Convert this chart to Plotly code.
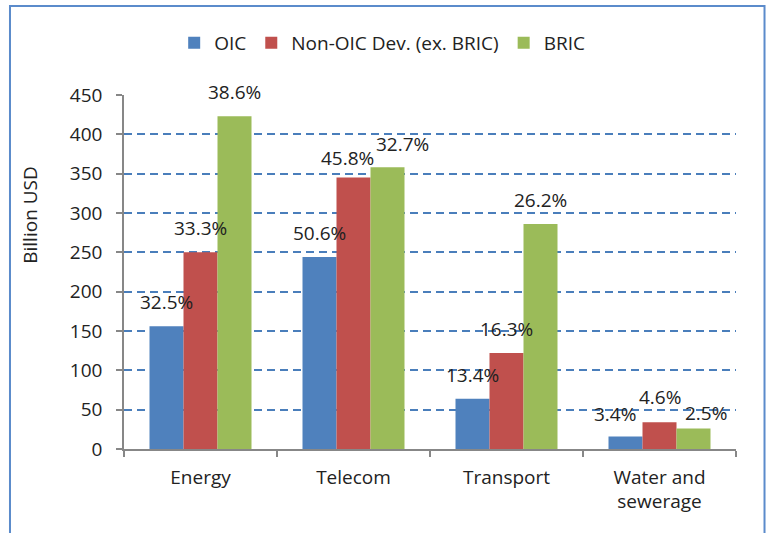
import plotly.graph_objects as go

# Infrastructure investment by sector, billion USD
categories = ["Energy", "Telecom", "Transport", "Water and<br>sewerage"]
series_names = ["OIC", "Non-OIC Dev. (ex. BRIC)", "BRIC"]
oic = [156, 244, 64, 16]
non_oic = [250, 345, 122, 34]
bric = [423, 358, 286, 26]
# share labels shown above each bar
oic_share = ["32.5%", "50.6%", "13.4%", "3.4%"]
non_oic_share = ["33.3%", "45.8%", "16.3%", "4.6%"]
bric_share = ["38.6%", "32.7%", "26.2%", "2.5%"]
y_ticks = [0, 50, 100, 150, 200, 250, 300, 350, 400, 450]

colors = ["#4F81BD", "#C0504D", "#9BBB59"]
values = [oic, non_oic, bric]
shares = [oic_share, non_oic_share, bric_share]

FONT = "Open Sans"
TEXT = "#222222"
AXIS = "#878787"

fig = go.Figure()
for name, vals, col in zip(series_names, values, colors):
    fig.add_trace(go.Bar(name=name, x=categories, y=vals,
                         marker=dict(color=col, line=dict(width=0))))

# label placement: bar offset within group (px) plus small nudges (dx, dy)
BAR_PX = 34
nudges = [
    [(0, 24), (0, 24), (0, 24), (-11, 22)],
    [(0, 24), (-6, 20), (0, 24), (0, 25)],
    [(0, 24), (15, 23), (0, 24), (12, 16)],
]
annotations = []
for s, (vals, labs) in enumerate(zip(values, shares)):
    for c, cat in enumerate(categories):
        dx, dy = nudges[s][c]
        annotations.append(dict(
            x=cat, y=vals[c], xref="x", yref="y", text=labs[c],
            showarrow=False, xanchor="center", yanchor="middle",
            xshift=(s - 1) * BAR_PX + dx, yshift=dy,
            font=dict(family=FONT, size=19, color=TEXT)))

annotations.append(dict(
    text="Billion USD", xref="paper", yref="paper", x=-0.154, y=0.661,
    textangle=-90, showarrow=False, xanchor="center", yanchor="middle",
    font=dict(family=FONT, size=19, color=TEXT)))

fig.update_layout(
    width=766, height=533,
    margin=dict(l=124, r=30, t=95, b=84, pad=0),
    paper_bgcolor="white", plot_bgcolor="white",
    font=dict(family=FONT, size=19, color=TEXT),
    barmode="group", bargap=0.3333, bargroupgap=0,
    showlegend=True,
    legend=dict(orientation="h", x=0.082, xanchor="left",
                y=1.147, yanchor="middle",
                font=dict(family=FONT, size=19, color=TEXT),
                bgcolor="rgba(0,0,0,0)"),
    annotations=annotations,
    shapes=[dict(type="rect", xref="paper", yref="paper",
                 x0=-0.1863, x1=1.0466, y0=-0.35, y1=1.2514,
                 line=dict(color="#5B8BCB", width=2), layer="below")],
)
fig.update_xaxes(
    showline=True, linecolor=AXIS, linewidth=1.5,
    ticks="outside", tickson="boundaries", ticklen=6,
    tickcolor=AXIS, tickwidth=1.5, showgrid=False,
    ticklabelstandoff=10,
    tickfont=dict(family=FONT, size=19, color=TEXT))
fig.update_yaxes(
    range=[0, 450], tickvals=y_ticks,
    showline=True, linecolor=AXIS, linewidth=1.5,
    ticks="outside", ticklen=6, tickcolor=AXIS, tickwidth=1.5,
    showgrid=True, gridcolor="#4A7EBB", gridwidth=1.5, griddash="8px,5px",
    zeroline=False, ticklabelstandoff=10,
    tickfont=dict(family=FONT, size=19, color=TEXT))

fig.write_html("out.html")
